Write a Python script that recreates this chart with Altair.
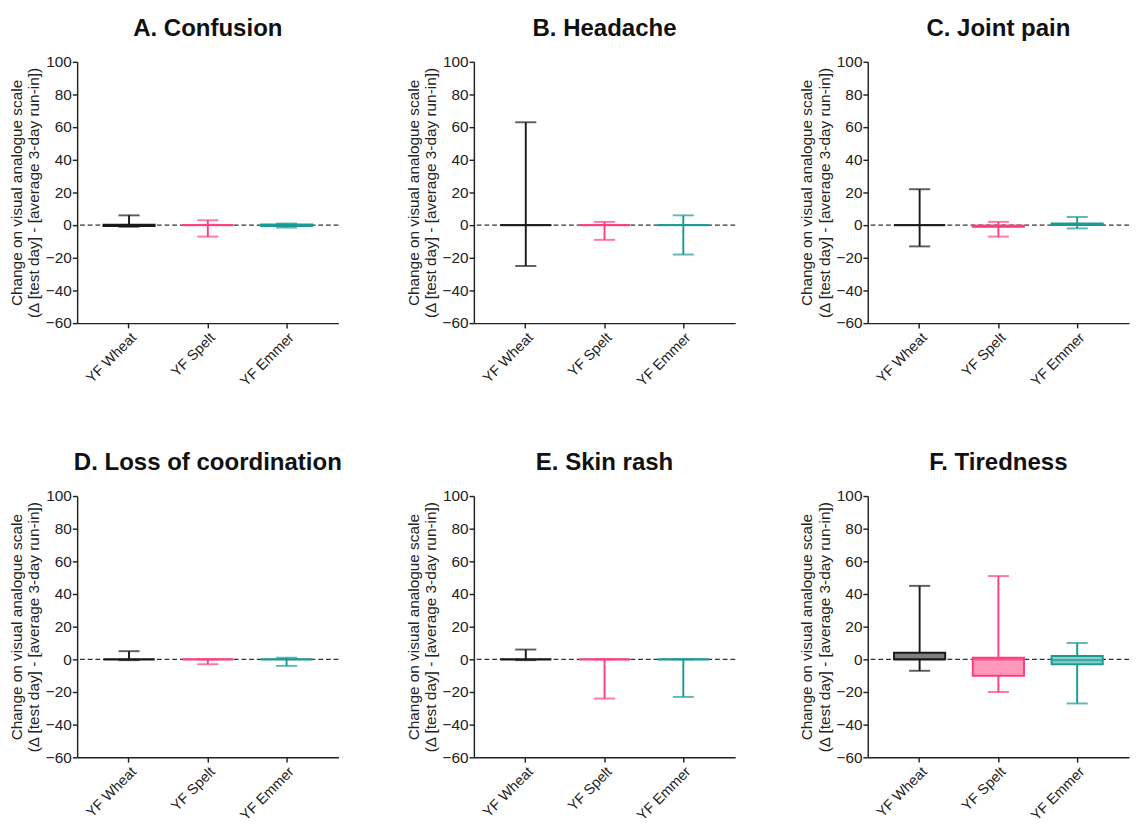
import altair as alt
import pandas as pd

symptoms = ["A. Confusion", "B. Headache", "C. Joint pain",
            "D. Loss of coordination", "E. Skin rash", "F. Tiredness"]
groups = ["YF Wheat", "YF Spelt", "YF Emmer"]

# per panel: [Wheat, Spelt, Emmer]
mins = [[-1, -7, -1.5], [-25, -9, -18], [-13, -7, -2],
        [-0.5, -3, -4], [-0.5, -24, -23], [-7, -20, -27]]
q1s = [[-0.5, 0, -0.5], [0, 0, 0], [0, -1, 0],
       [0, 0, 0], [0, 0, 0], [0, -10, -3]]
medians = [[0, 0, 0], [0, 0, 0], [0, -0.5, 0.5],
           [0, 0, 0], [0, 0, 0], [0, 0, -0.5]]
q3s = [[0.3, 0, 0.5], [0, 0, 0], [0, -0.3, 1],
       [0, 0, 0], [0, 0, 0], [4, 1, 2]]
maxs = [[6, 3, 1], [63, 2, 6], [22, 2, 5],
        [5, 0, 1], [6, 0, 0], [45, 51, 10]]

stroke_colors = ["#1a1a1a", "#ff3d7f", "#1a9a96"]
fill_colors = ["#7f7f7f", "#ff99bb", "#8ed0c8"]

y_title = ["Change on visual analogue scale", "(\u0394 [test day] - [average 3-day run-in])"]

FONT = "Liberation Sans"
stroke_scale = alt.Scale(domain=groups, range=stroke_colors)
fill_scale = alt.Scale(domain=groups, range=fill_colors)
y_scale = alt.Scale(domain=[-60, 100], nice=False, zero=False)
y_axis = alt.Axis(title=y_title, values=list(range(-60, 101, 20)), grid=False,
                  titlePadding=4, labelPadding=1, labelFontSize=16)
x_enc = alt.X("group:N", sort=groups,
              scale=alt.Scale(paddingInner=0.35, paddingOuter=0.3335),
              axis=alt.Axis(title=None, labelAngle=-45, labelPadding=2, labelFontSize=15))


def yq(field):
    return alt.Y(f"{field}:Q", scale=y_scale, axis=y_axis)


def panel(i):
    df = pd.DataFrame({"group": groups, "lo": mins[i], "q1": q1s[i],
                       "med": medians[i], "q3": q3s[i], "hi": maxs[i]})
    base = alt.Chart(df)
    col = alt.Color("group:N", scale=stroke_scale, legend=None)
    zero = alt.Chart(pd.DataFrame({"z": [0]})).mark_rule(
        strokeDash=[5, 3], color="#333333", strokeWidth=1.3).encode(y=yq("z"))
    whisk = base.mark_rule(strokeWidth=2).encode(x=x_enc, y=yq("lo"), y2="hi:Q", color=col)
    cap_lo = base.mark_tick(thickness=2, size=22).encode(x=x_enc, y=yq("lo"), color=col)
    cap_hi = base.mark_tick(thickness=2, size=22).encode(x=x_enc, y=yq("hi"), color=col)
    box = base.mark_bar(strokeWidth=2).encode(
        x=x_enc, y=yq("q1"), y2="q3:Q",
        fill=alt.Fill("group:N", scale=fill_scale, legend=None),
        stroke=alt.Stroke("group:N", scale=stroke_scale, legend=None))
    med = base.mark_tick(thickness=2.5, size=53).encode(x=x_enc, y=yq("med"), color=col)
    return alt.layer(zero, whisk, cap_lo, cap_hi, box, med).properties(
        width=272, height=272,
        title=alt.TitleParams(symptoms[i], anchor="middle", frame="group", offset=14))


chart = alt.concat(*[panel(i) for i in range(6)], columns=3,
                   spacing={"row": 64, "column": 65}).properties(
    padding={"left": 0, "top": -8, "right": 0, "bottom": 0}
).configure_view(stroke=None).configure_axis(
    labelFont=FONT, titleFont=FONT, labelFontSize=16, titleFontSize=16,
    titleFontWeight="normal", labelColor="#222222", titleColor="#222222",
    domainColor="#222222", domainWidth=1.5, tickColor="#222222", tickWidth=1.5,
    tickSize=5
).configure_title(font=FONT, fontSize=25, fontWeight="bold", color="#111111")

chart.save("out.html", embed_options={"renderer": "svg", "actions": False})
